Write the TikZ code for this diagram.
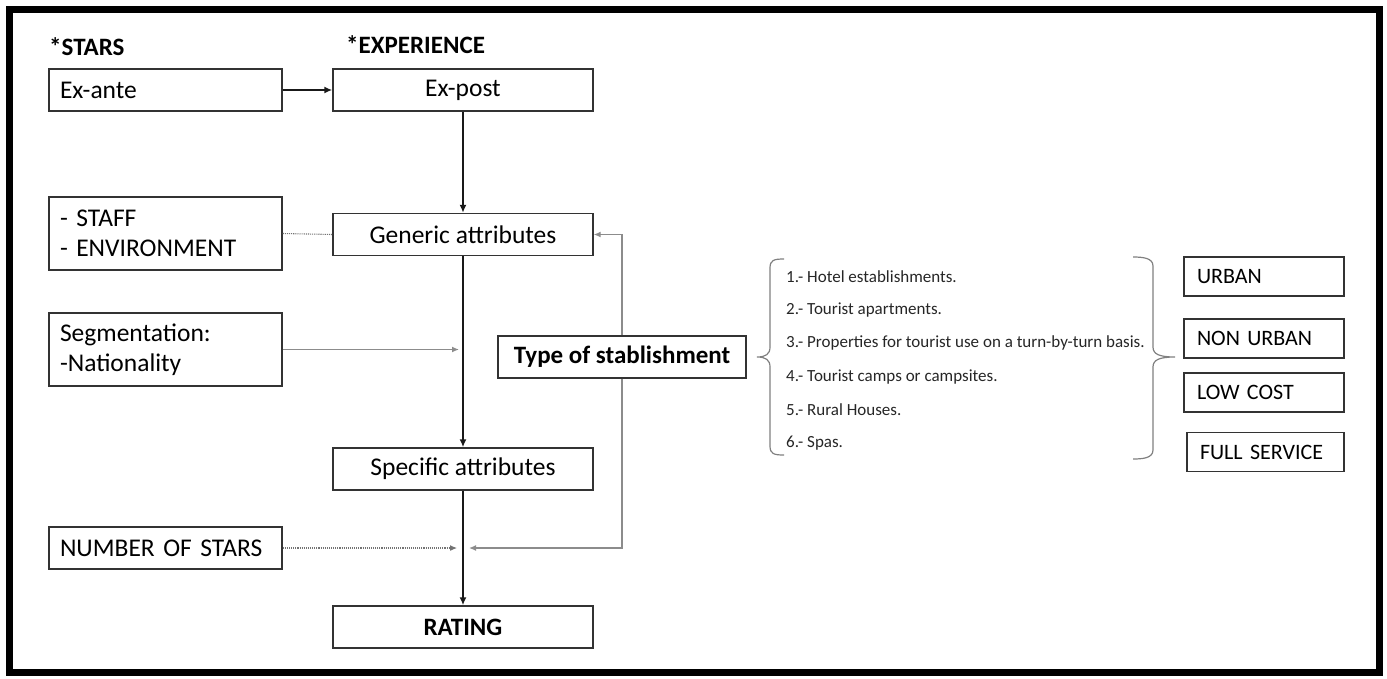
\documentclass[tikz,border=0pt]{standalone}
\usepackage{fontspec}
\setmainfont{Carlito}
\usepackage{tikz}
\usetikzlibrary{arrows.meta, positioning}

\tikzset{
  box/.style={draw=black!80, line width=1.4pt, fill=white, minimum height=42pt, inner sep=0pt, font=\fontsize{25.5}{30}\selectfont},
  leftbox/.style={box, text width=211pt, inner xsep=11pt, align=left},
  midbox/.style={box, minimum width=260pt},
  tagbox/.style={box, minimum height=39pt, text width=134pt, inner xsep=13pt, align=left, font=\fontsize{22}{26}\selectfont},
  head/.style={font=\fontsize{25}{30}\selectfont\bfseries, inner sep=0pt, anchor=west},
  listitem/.style={font=\fontsize{17}{20}\selectfont, inner sep=0pt, anchor=west, text=black!85},
  flow/.style={draw=black!90, line width=1.8pt, -{Latex[length=8pt,width=7pt]}},
  side/.style={draw=black!45, line width=1.3pt, -{Latex[length=7pt,width=6pt]}},
  dots/.style={draw=black!55, line width=1.1pt, densely dotted},
  curly/.style={draw=black!50, line width=1.2pt}
}

\begin{document}
\begin{tikzpicture}[x=1pt, y=-1pt]
  \useasboundingbox (0,0) rectangle (1387,678);
  \draw[line width=7pt] (9.5,9.5) rectangle (1379.5,672.5);

  % headings
  \node[head] (hstars) at (49,47) {*STARS};
  \node[head] (hexp)   at (346,45) {*EXPERIENCE};

  % left column
  \node[leftbox] (exante) at (165.5,90) {Ex-ante};
  \node[leftbox, minimum height=73pt] (staff) at (165.5,233.5) {- STAFF\\- ENVIRONMENT};
  \node[leftbox, minimum height=73pt] (segm) at (165.5,349.5) {Segmentation:\\-Nationality};
  \node[leftbox] (nstars) at (165.5,548) {NUMBER OF STARS};

  % main column
  \node[midbox] (expost)   at (463,90)    {Ex-post};
  \node[midbox] (generic)  at (463,234.5) {Generic attributes};
  \node[midbox] (specific) at (463,469)   {Specific attributes};
  \node[midbox, font=\fontsize{25}{30}\selectfont\bfseries] (rating) at (463,627) {RATING};

  \coordinate (segend) at (459,349.5);
  \coordinate (numend) at (457,548);
  \coordinate (typeend) at (469,548);

  % type of establishment and its groups
  \node[box, minimum width=248pt, font=\fontsize{25}{30}\selectfont\bfseries] (type) at (622,357) {Type of stablishment};
  \draw[side] (type.north) |- (generic.east);
  \draw[side] (type.south) |- (typeend);

  \foreach \t [count=\i] in {1.- Hotel establishments.,
      2.- Tourist apartments.,
      3.- Properties for tourist use on a turn-by-turn basis.,
      4.- Tourist camps or campsites.,
      5.- Rural Houses.,
      6.- Spas.}
    \node[listitem] (item\i) at (786,{277+33.2*(\i-1)}) {\t};

  \draw[curly] (784,259) .. controls (774,259) and (770,260) .. (770,268) -- (770,347)
    .. controls (770,354) and (766,357) .. (757,357)
    .. controls (766,357) and (770,360) .. (770,367) -- (770,446)
    .. controls (770,454) and (774,455) .. (784,455);
  \draw[curly] (1133,257) .. controls (1143,257) and (1153,258) .. (1153,266) -- (1153,347)
    .. controls (1153,354) and (1159,357) .. (1175,357)
    .. controls (1159,357) and (1153,360) .. (1153,367) -- (1153,450)
    .. controls (1153,458) and (1143,459) .. (1133,459);

  \node[tagbox] (urban)    at (1264,276.5) {URBAN};
  \node[tagbox] (nonurban) at (1264,338.5) {NON URBAN};
  \node[tagbox] (lowcost)  at (1264,392.5) {LOW COST};
  \node[tagbox, text width=131pt, inner xsep=11pt, minimum width=157pt] (fullserv) at (1265.5,452) {FULL SERVICE};

  % connectors
  \draw[flow, line width=2.6pt] (exante) -- (expost);
  \draw[flow] (expost) -- (generic);
  \draw[flow] (generic) -- (specific);
  \draw[flow] (specific) -- (rating);
  \draw[dots] (staff.east) -- (generic.west);
  \draw[side] (segm.east) -- (segend);
  \draw[dots, -{Latex[length=7pt,width=6pt]}] (nstars.east) -- (numend);
\end{tikzpicture}
\end{document}
